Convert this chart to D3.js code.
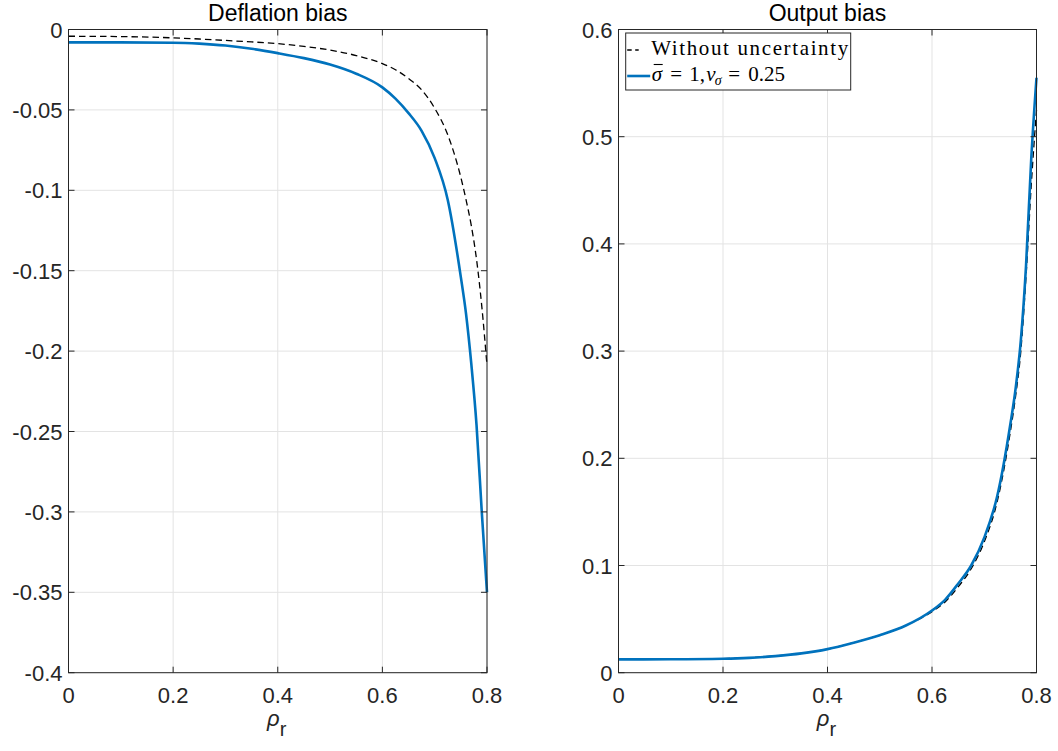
<!DOCTYPE html>
<html>
<head>
<meta charset="utf-8">
<script src="https://cdn.jsdelivr.net/npm/d3@7"></script>
<style>
  body { margin: 0; background: #fff; }
  svg { display: block; }
</style>
</head>
<body>
<div id="chart"></div>
<script>
// rho grid shared by every series
var rho = [0, 0.1, 0.2, 0.25, 0.3, 0.35, 0.4, 0.45, 0.5, 0.55, 0.6, 0.625, 0.65, 0.675, 0.7, 0.725, 0.75, 0.76, 0.77, 0.78, 0.79, 0.8]

// Deflation bias
var deflNoUnc = [-0.0042, -0.0044, -0.0052, -0.0059, -0.0068, -0.0077, -0.0088, -0.0105, -0.0128, -0.0162, -0.0212, -0.0250, -0.0305, -0.0375, -0.0490, -0.0655, -0.0920, -0.1060, -0.1220, -0.1430, -0.1720, -0.2090]
var deflUnc = [-0.0080, -0.0080, -0.0082, -0.0088, -0.0100, -0.0120, -0.0147, -0.0178, -0.0218, -0.0275, -0.0360, -0.0430, -0.0520, -0.0630, -0.0800, -0.1060, -0.1540, -0.1770, -0.2080, -0.2460, -0.3000, -0.3500]

// Output bias
var outNoUnc = [0.0127, 0.0128, 0.0132, 0.0140, 0.0157, 0.0180, 0.0220, 0.0280, 0.0350, 0.0440, 0.0570, 0.0660, 0.0800, 0.0970, 0.1220, 0.1600, 0.2250, 0.2580, 0.3000, 0.3700, 0.4550, 0.5250]
var outUnc = [0.0124, 0.0125, 0.0130, 0.0138, 0.0155, 0.0180, 0.0220, 0.0280, 0.0350, 0.0440, 0.0580, 0.0680, 0.0830, 0.1000, 0.1260, 0.1650, 0.2320, 0.2650, 0.3100, 0.3800, 0.4800, 0.5550]

var xTicks = [0, 0.2, 0.4, 0.6, 0.8]
var deflTicks = [0, -0.05, -0.1, -0.15, -0.2, -0.25, -0.3, -0.35, -0.4]
var outTicks = [0, 0.1, 0.2, 0.3, 0.4, 0.5, 0.6]

var width = 1058, height = 751
var blue = '#0072BD'
var axisColor = '#262626'
var font = 'Liberation Sans, Arial, Helvetica, sans-serif'

var svg = d3.select('#chart').append('svg')
    .attr('width', width)
    .attr('height', height)

function fmt (v) {
  // matlab style: plain hyphen, no trailing zeros
  return String(+v.toFixed(2))
}

function drawPanel (opts) {
  var x = d3.scaleLinear().domain([0, 0.8]).range([opts.left, opts.right])
  var y = d3.scaleLinear().domain(opts.yDomain).range([opts.bottom, opts.top])
  var g = svg.append('g')

  // grid
  g.selectAll('.vgrid').data(xTicks).enter().append('line')
      .attr('x1', d => x(d)).attr('x2', d => x(d))
      .attr('y1', opts.top).attr('y2', opts.bottom)
      .attr('stroke', '#e3e3e3').attr('stroke-width', 1)
  g.selectAll('.hgrid').data(opts.yTicks).enter().append('line')
      .attr('x1', opts.left).attr('x2', opts.right)
      .attr('y1', d => y(d)).attr('y2', d => y(d))
      .attr('stroke', '#e3e3e3').attr('stroke-width', 1)

  // lines
  var line = d3.line()
      .x((d, i) => x(rho[i]))
      .y(d => y(d))
      .curve(d3.curveMonotoneX)

  g.append('path').datum(opts.dashed)
      .attr('d', line)
      .attr('fill', 'none')
      .attr('stroke', '#000')
      .attr('stroke-width', 1.3)
      .attr('stroke-dasharray', '6.5,4')

  g.append('path').datum(opts.solid)
      .attr('d', line)
      .attr('fill', 'none')
      .attr('stroke', blue)
      .attr('stroke-width', 2.6)

  // frame and ticks (box on, ticks inside)
  var tl = 6
  g.append('rect')
      .attr('x', opts.left).attr('y', opts.top)
      .attr('width', opts.right - opts.left)
      .attr('height', opts.bottom - opts.top)
      .attr('fill', 'none').attr('stroke', axisColor).attr('stroke-width', 1)

  xTicks.forEach(function (t) {
    g.append('line').attr('x1', x(t)).attr('x2', x(t))
        .attr('y1', opts.bottom).attr('y2', opts.bottom - tl)
        .attr('stroke', axisColor)
    g.append('line').attr('x1', x(t)).attr('x2', x(t))
        .attr('y1', opts.top).attr('y2', opts.top + tl)
        .attr('stroke', axisColor)
  })
  opts.yTicks.forEach(function (t) {
    g.append('line').attr('x1', opts.left).attr('x2', opts.left + tl)
        .attr('y1', y(t)).attr('y2', y(t))
        .attr('stroke', axisColor)
    g.append('line').attr('x1', opts.right).attr('x2', opts.right - tl)
        .attr('y1', y(t)).attr('y2', y(t))
        .attr('stroke', axisColor)
  })

  // tick labels
  g.selectAll('.xlab').data(xTicks).enter().append('text')
      .attr('x', d => x(d))
      .attr('y', opts.bottom + 30)
      .attr('text-anchor', 'middle')
      .style('font-family', font).style('font-size', '22px')
      .attr('fill', axisColor)
      .text(fmt)
  g.selectAll('.ylab').data(opts.yTicks).enter().append('text')
      .attr('x', opts.left - 6)
      .attr('y', d => y(d) + 8)
      .attr('text-anchor', 'end')
      .style('font-family', font).style('font-size', '22px')
      .attr('fill', axisColor)
      .text(fmt)

  // title
  g.append('text')
      .attr('x', (opts.left + opts.right) / 2)
      .attr('y', 21)
      .attr('text-anchor', 'middle')
      .style('font-family', font).style('font-size', '23px')
      .attr('fill', '#000')
      .text(opts.title)

  // x label: rho_r
  var xl = g.append('text')
      .attr('x', (opts.left + opts.right) / 2 - 1)
      .attr('y', 726)
      .attr('text-anchor', 'middle')
      .style('font-family', font).style('font-size', '22px')
      .attr('fill', axisColor)
  xl.append('tspan').style('font-style', 'italic').text('ρ')
  xl.append('tspan').attr('dy', 10).style('font-size', '20px').text('r')

  return {x: x, y: y, g: g}
}

drawPanel({
  left: 68.5, right: 487, top: 29.5, bottom: 672.7,
  yDomain: [-0.4, 0], yTicks: deflTicks,
  dashed: deflNoUnc, solid: deflUnc,
  title: 'Deflation bias'
})

drawPanel({
  left: 618.5, right: 1036.5, top: 29.5, bottom: 672.7,
  yDomain: [0, 0.6], yTicks: outTicks,
  dashed: outNoUnc, solid: outUnc,
  title: 'Output bias'
})

// legend
var lg = svg.append('g').attr('transform', 'translate(625.7,33)')
lg.append('rect')
    .attr('width', 225).attr('height', 57)
    .attr('fill', '#fff').attr('stroke', axisColor).attr('stroke-width', 1)
lg.append('line')
    .attr('x1', 1.5).attr('x2', 13).attr('y1', 17).attr('y2', 17)
    .attr('stroke', '#000').attr('stroke-width', 1.3).attr('stroke-dasharray', '4.5,3.5')
lg.append('line')
    .attr('x1', 1.5).attr('x2', 24.5).attr('y1', 43).attr('y2', 43)
    .attr('stroke', blue).attr('stroke-width', 2.6)

var serif = 'Liberation Serif, Times New Roman, serif'
lg.append('text')
    .attr('x', 25.5).attr('y', 22)
    .style('font-family', serif).style('font-size', '21px')
    .attr('textLength', 197)
    .text('Without uncertainty')

// math line, laid out piece by piece like the TeX legend
var t2 = lg.append('text')
    .attr('y', 48)
    .style('font-family', serif).style('font-size', '21px')
t2.append('tspan').attr('x', 26).style('font-style', 'italic').text('σ')
t2.append('tspan').attr('x', 44.5).text('=')
t2.append('tspan').attr('x', 63.5).text('1,')
t2.append('tspan').attr('x', 80.5).style('font-style', 'italic').text('v')
t2.append('tspan').attr('x', 89).attr('y', 52).style('font-size', '14px').style('font-style', 'italic').text('σ')
t2.append('tspan').attr('x', 102.5).attr('y', 48).text('=')
t2.append('tspan').attr('x', 122.5).text('0.25')
// bar over sigma
lg.append('line')
    .attr('x1', 28).attr('x2', 37).attr('y1', 31.5).attr('y2', 31.5)
    .attr('stroke', '#000').attr('stroke-width', 1.1)
</script>
</body>
</html>
